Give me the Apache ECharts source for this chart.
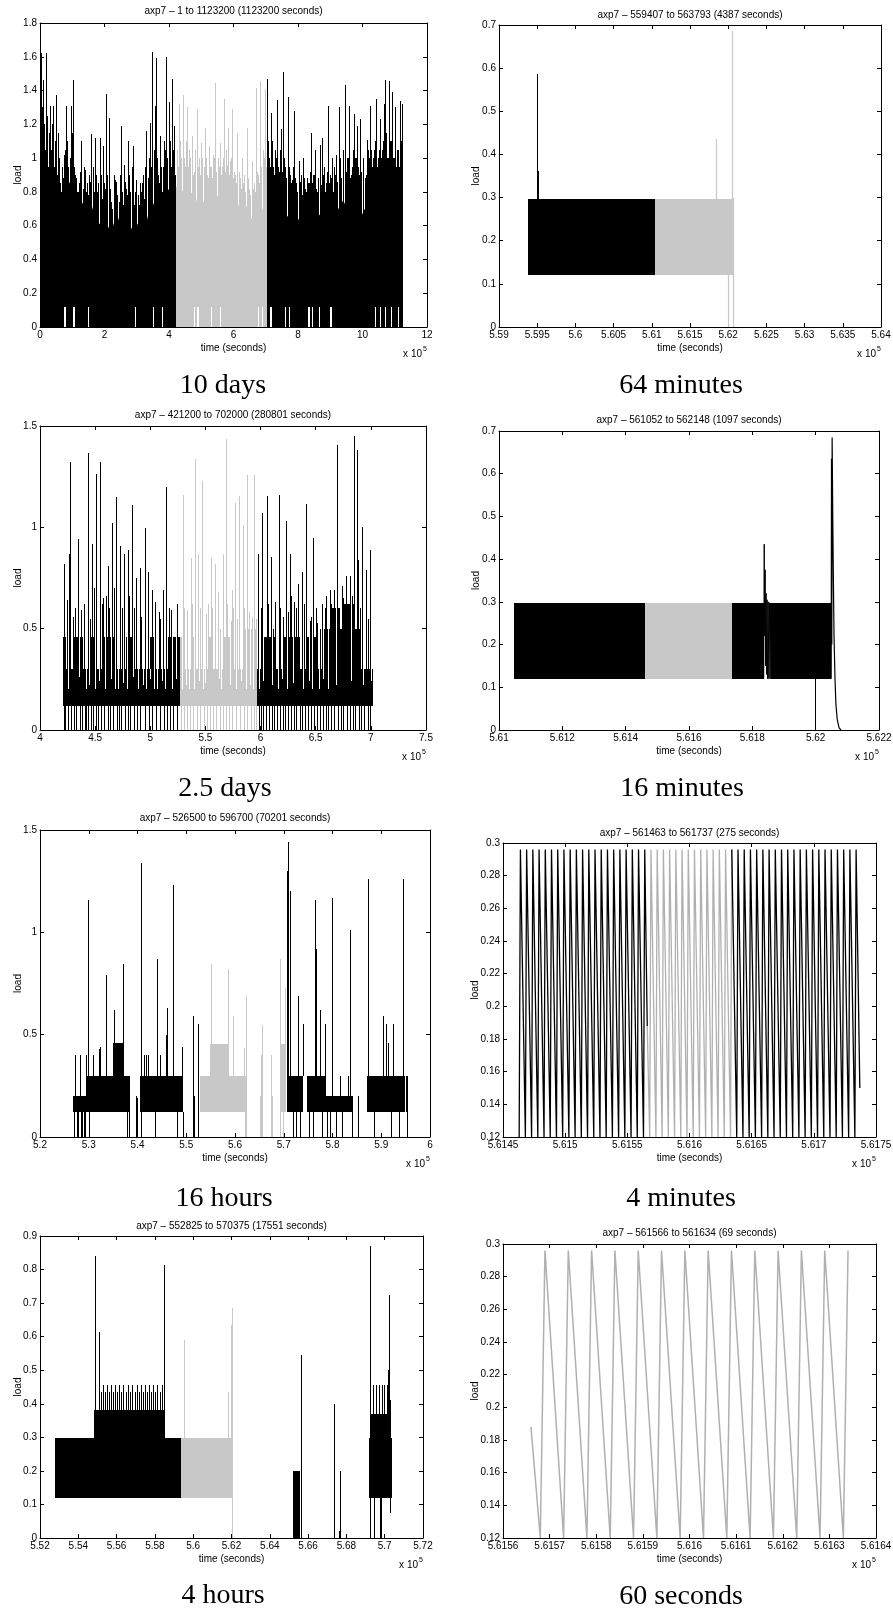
<!DOCTYPE html>
<html><head><meta charset="utf-8">
<script src="https://cdn.jsdelivr.net/npm/echarts@6/dist/echarts.min.js"></script>
<style>html,body{margin:0;padding:0;background:#fff}#c{width:893px;height:1612px}</style>
</head><body><div id="c"></div><script>
// ---------------- axis ranges [min, max, interval] ----------------
const xRanges = [[0,1200000,200000],[559000,564000,500],[400000,750000,50000],[561000,562200,200],
                 [520000,600000,10000],[561450,561750,50],[552000,572000,2000],[561560,561640,10]];
const yRanges = [[0,1.8,0.2],[0,0.7,0.1],[0,1.5,0.5],[0,0.7,0.1],[0,1.5,0.5],[0.12,0.3,0.02],[0,0.9,0.1],[0.12,0.3,0.02]];
const titles = ['axp7 \u2013 1 to 1123200 (1123200 seconds)','axp7 \u2013 559407 to 563793 (4387 seconds)',
  'axp7 \u2013 421200 to 702000 (280801 seconds)','axp7 \u2013 561052 to 562148 (1097 seconds)',
  'axp7 \u2013 526500 to 596700 (70201 seconds)','axp7 \u2013 561463 to 561737 (275 seconds)',
  'axp7 \u2013 552825 to 570375 (17551 seconds)','axp7 \u2013 561566 to 561634 (69 seconds)'];
const captions = ['10 days','64 minutes','2.5 days','16 minutes','16 hours','4 minutes','4 hours','60 seconds'];

// ---------------- Panel 1 (10 days) ----------------
const p1BaseBlackA = [[0,0.9],[10000,0.95],[20000,0.86],[30000,0.8],[40000,0.72],[50000,0.76],[60000,0.6],[70000,0.82],[80000,0.9],[90000,0.85],[100000,0.88],[110000,0.78],[120000,0.72],[130000,0.74],[140000,0.7],[150000,0.68],[160000,0.72],[170000,0.66],[180000,0.62],[190000,0.6],[200000,0.68],[210000,0.6],[220000,0.56],[230000,0.62],[240000,0.66],[250000,0.6],[260000,0.58],[270000,0.62],[280000,0.6],[290000,0.56],[300000,0.6],[310000,0.64],[320000,0.66],[330000,0.62],[340000,0.7],[350000,0.74],[360000,0.68],[370000,0.7],[380000,0.74],[390000,0.78],[400000,0.82],[410000,0.8],[421200,0.78]];
const p1BaseGrey = [[421200,0.82],[430000,0.86],[440000,0.8],[450000,0.84],[460000,0.75],[470000,0.8],[480000,0.72],[490000,0.78],[500000,0.7],[510000,0.76],[520000,0.74],[530000,0.8],[540000,0.72],[550000,0.78],[560000,0.7],[570000,0.76],[580000,0.72],[590000,0.8],[600000,0.76],[610000,0.7],[620000,0.74],[630000,0.66],[640000,0.72],[650000,0.62],[660000,0.66],[670000,0.58],[680000,0.62],[690000,0.7],[702000,0.78]];
const p1BaseBlackB = [[702000,0.8],[710000,0.77],[720000,0.75],[730000,0.73],[740000,0.75],[750000,0.71],[760000,0.67],[770000,0.65],[780000,0.69],[790000,0.65],[800000,0.63],[810000,0.67],[820000,0.65],[830000,0.61],[840000,0.65],[850000,0.69],[860000,0.65],[870000,0.67],[880000,0.71],[890000,0.65],[900000,0.63],[910000,0.67],[920000,0.69],[930000,0.71],[940000,0.75],[950000,0.71],[960000,0.67],[970000,0.65],[980000,0.69],[990000,0.65],[1000000,0.67],[1010000,0.71],[1020000,0.75],[1030000,0.73],[1040000,0.71],[1050000,0.75],[1060000,0.77],[1070000,0.75],[1080000,0.73],[1090000,0.77],[1100000,0.75],[1110000,0.73],[1120000,0.75],[1123200,0.75]];
const p1SpikesBlack = [[4100,1.62],[9300,1.46],[12000,1.2],[19600,1.62],[25000,0.95],[30000,1.31],[35000,1.05],[40300,1.31],[45000,1.0],[50700,1.375],[58000,1.0],[64100,0.8],[74500,1.02],[81700,1.31],[88000,0.95],[95100,1.31],[102400,1.46],[110000,0.9],[115900,0.8],[122000,0.85],[128300,1.1],[138600,0.93],[145000,0.85],[152000,0.9],[159300,1.14],[169600,1.12],[178000,0.8],[185100,1.12],[195500,1.07],[200000,0.82],[205800,1.38],[213100,1.24],[221400,0.74],[228000,0.9],[233800,0.87],[240000,0.78],[250400,1.19],[260700,0.96],[266000,0.82],[273100,1.1],[280000,0.8],[288600,1.07],[292000,0.72],[299000,0.87],[309300,0.85],[315000,0.85],[320000,0.8],[330000,1.16],[340400,1.21],[345000,0.9],[348700,1.63],[355900,1.31],[361100,1.59],[366000,0.9],[371400,1.13],[380000,0.95],[388000,1.05],[392100,1.6],[399300,1.33],[405000,0.9],[409700,1.47],[415900,1.19],
  [703500,1.468],[709000,1.0],[716000,1.27],[722000,0.95],[728000,1.05],[735000,1.345],[741000,0.92],[747000,1.17],[753000,1.51],[760000,0.95],[768000,1.36],[775000,0.9],[781000,0.87],[789000,1.28],[795000,0.85],[802000,0.98],[808000,0.9],[815000,1.0],[821000,0.82],[828000,0.88],[834000,0.85],[840000,1.15],[846000,0.9],[853000,1.05],[860000,0.8],[867000,1.08],[874000,1.12],[880000,0.95],[886000,0.85],[893000,1.31],[899000,0.9],[905000,1.0],[912000,0.95],[918000,1.02],[926000,1.3],[931000,0.92],[938000,0.95],[945000,1.43],[951000,1.0],[957000,1.31],[964000,0.9],[973000,1.26],[978000,1.0],[983000,1.19],[988000,0.9],[993000,1.23],[1000000,0.95],[1008000,0.88],[1014000,1.11],[1019000,1.0],[1024000,1.31],[1030000,0.95],[1036000,1.05],[1042000,1.35],[1048000,1.0],[1055000,1.23],[1061000,1.05],[1066000,1.32],[1071000,1.46],[1076000,1.0],[1081000,1.455],[1086000,1.1],[1092000,1.39],[1097000,1.0],[1102000,1.3],[1108000,1.05],[1112000,0.95],[1117000,1.34],[1122000,1.32]];
const p1MidBlack = [[2000,1.1],[7000,1.3],[15000,1.05],[22000,1.25],[27500,1.15],[32500,0.98],[38000,1.2],[42500,0.95],[48000,1.1],[53000,0.9],[56000,1.15],[61500,0.85],[67000,0.95],[70000,0.88],[77500,1.05],[84500,1.1],[91500,1.0],[98000,1.15],[106000,0.95],[113000,0.88],[119000,0.8],[125000,0.92],[132000,0.82],[135000,0.95],[142000,0.8],[148000,0.78],[156000,0.86],[163000,0.95],[166000,0.8],[173000,0.9],[181000,0.85],[189000,0.9],[192000,0.76],[198000,0.85],[203000,0.75],[209000,0.9],[217000,0.82],[224000,0.7],[231000,0.78],[237000,0.86],[244000,0.74],[247000,0.9],[254000,0.8],[257000,0.72],[263000,0.86],[269000,0.78],[276000,0.9],[284000,0.76],[286000,0.95],[296000,0.8],[303000,0.78],[306000,0.72],[312000,0.8],[318000,0.9],[324000,0.76],[327000,0.95],[334000,0.88],[337000,1.0],[343000,0.95],[352000,1.05],[358000,0.9],[363000,1.0],[369000,0.85],[374000,0.95],[377000,0.8],[383000,1.1],[385000,0.9],[395000,1.0],[402000,1.1],[407000,0.95],[412000,1.05],[418000,0.9],
  [706000,1.1],[712000,0.95],[719000,1.1],[725000,0.9],[731000,1.0],[738000,0.95],[744000,1.05],[750000,0.92],[756000,1.0],[763000,0.88],[771000,0.95],[778000,0.85],[785000,0.95],[792000,0.88],[798000,0.8],[805000,0.86],[811000,0.78],[818000,0.88],[825000,0.8],[831000,0.85],[837000,0.92],[843000,0.85],[850000,0.9],[856000,0.82],[863000,0.88],[871000,0.84],[877000,0.9],[883000,0.8],[890000,0.92],[896000,0.85],[902000,0.88],[908000,0.8],[915000,0.9],[921000,0.86],[929000,1.0],[934000,0.88],[941000,1.05],[948000,0.92],[954000,1.0],[961000,0.88],[967000,0.95],[970000,1.05],[976000,0.9],[981000,1.0],[986000,0.95],[991000,1.05],[996000,0.92],[1003000,1.0],[1011000,0.9],[1016000,1.05],[1022000,0.95],[1027000,1.05],[1033000,1.0],[1039000,1.1],[1045000,0.95],[1051000,1.05],[1058000,1.0],[1064000,1.1],[1068000,1.0],[1074000,1.15],[1079000,1.0],[1084000,1.05],[1089000,1.1],[1095000,1.0],[1100000,1.1],[1105000,0.95],[1110000,1.05],[1115000,1.0],[1120000,1.1]];
const p1SpikesGrey = [[432000,1.32],[438000,1.0],[443000,1.375],[449000,0.95],[455000,1.3],[462000,1.05],[471000,1.13],[478000,0.92],[486000,1.29],[492000,1.0],[500000,1.09],[507000,0.95],[512000,1.18],[518000,0.9],[525000,1.07],[531000,0.95],[537000,1.02],[543000,1.445],[551000,1.0],[559000,1.09],[565000,0.95],[571000,1.35],[578000,1.05],[584000,1.18],[590000,0.98],[595000,1.29],[603000,0.92],[612000,1.15],[619000,0.88],[626000,1.0],[633000,0.9],[641000,1.18],[648000,0.82],[657000,0.98],[663000,0.85],[670000,1.415],[676000,0.9],[683000,1.455],[690000,1.05],[698000,1.41],
  [424000,1.05],[427000,0.95],[435000,1.1],[446000,1.0],[452000,1.1],[458000,0.95],[466000,1.0],[474000,0.9],[482000,1.05],[489000,0.95],[496000,0.9],[503000,1.0],[510000,0.92],[515000,1.0],[521000,0.88],[528000,0.95],[534000,0.88],[540000,1.0],[546000,0.92],[554000,0.95],[562000,0.9],[568000,1.0],[574000,0.92],[581000,0.96],[587000,0.9],[593000,1.0],[599000,0.88],[606000,0.9],[609000,0.85],[616000,0.92],[622000,0.82],[629000,0.85],[637000,0.8],[644000,0.88],[652000,0.78],[660000,0.82],[667000,0.8],[673000,0.92],[680000,0.85],[686000,0.95],[694000,1.0],[700000,0.95]];
const p1Gaps = [[73000,80000],[102000,107000],[150000,152500],[294000,297000],[351000,354500],[379000,382000],
  [477000,479500],[488000,492000],[531000,533000],[558000,562000],[675000,678000],[687000,691000],
  [714000,718000],[759000,763000],[772000,775000],[831000,836000],[844000,846500],[866000,868500],[900000,904000],
  [1040000,1043000],[1055000,1058000],[1071000,1074000],[1089000,1092000],[1110000,1113000]];

// ---------------- Panel 2 (64 minutes) ----------------
const p2RectsBlack = [[559384,561039,0.12,0.297]];
const p2RectsGrey = [[561039,562057,0.12,0.297]];
const p2SegsBlack = [[559498,0.12,0.587],[559505,0.12,0.362]];
const p2SegsGrey = [[561838,0.12,0.435],[562044,0.12,0.685],[561991,0,0.12],[562066,0,0.3]];

// ---------------- Panel 3 (2.5 days) ----------------
const p3RectsBlack = [[421200,526500,0.12,0.2],[596700,702000,0.12,0.2],
  [421200,424000,0.2,0.46],[424000,430000,0.2,0.3],[430000,439000,0.2,0.46],[439000,445000,0.2,0.3],[445000,452000,0.2,0.46],[452000,457000,0.2,0.3],[457000,470000,0.2,0.46],[470000,478000,0.2,0.3],[478000,486000,0.2,0.46],[486000,500000,0.2,0.3],[500000,504000,0.2,0.46],[504000,516000,0.2,0.3],[516000,526500,0.2,0.46],
  [596700,603000,0.2,0.3],[603000,614000,0.2,0.46],[614000,620000,0.2,0.3],[620000,636000,0.2,0.46],[636000,642000,0.2,0.3],[642000,652000,0.2,0.46],[652000,656000,0.2,0.3],[656000,690000,0.2,0.5],[664000,672000,0.5,0.6],[676000,686000,0.5,0.62],[690000,702000,0.2,0.3]];
const p3RectsGrey = [[526500,596700,0.12,0.2],[526500,530000,0.2,0.46],[530000,537000,0.2,0.3],[537000,541000,0.2,0.46],[541000,552000,0.2,0.3],[552000,557000,0.2,0.46],[557000,566000,0.2,0.3],[566000,573000,0.2,0.46],[573000,586000,0.2,0.3],[586000,596700,0.2,0.5]];
const p3Cuts = [[425000,0.2,0.46],[426800,0.24,0.46],[431500,0.2,0.46],[435500,0.26,0.46],[441800,0.2,0.3],[444000,0.22,0.3],[449500,0.2,0.46],[453500,0.24,0.3],[459000,0.2,0.46],[464500,0.25,0.46],[468000,0.2,0.46],[471000,0.2,0.3],[475000,0.23,0.3],[479000,0.2,0.46],[484000,0.26,0.46],[489000,0.2,0.3],[493000,0.22,0.3],[496500,0.2,0.3],[499500,0.25,0.3],[503000,0.2,0.46],[506500,0.2,0.3],[510500,0.24,0.3],[513500,0.2,0.3],[520000,0.2,0.46],[523000,0.25,0.46],
  [528500,0.2,0.46],[532000,0.22,0.3],[535000,0.2,0.3],[539500,0.2,0.46],[544000,0.24,0.3],[548000,0.2,0.3],[550000,0.23,0.3],[555000,0.2,0.46],[559000,0.2,0.3],[562000,0.25,0.3],[564500,0.2,0.3],[569500,0.2,0.46],[572000,0.22,0.46],[577500,0.2,0.3],[582000,0.24,0.3],[586500,0.2,0.5],[590000,0.22,0.5],[593000,0.2,0.5],
  [599000,0.2,0.3],[602000,0.24,0.3],[606000,0.2,0.46],[610500,0.22,0.46],[615500,0.2,0.3],[619000,0.25,0.3],[624000,0.2,0.46],[629000,0.23,0.46],[633500,0.2,0.46],[638500,0.2,0.3],[643500,0.24,0.46],[647000,0.2,0.46],[653000,0.2,0.3],[657000,0.25,0.5],[661000,0.2,0.5],[668000,0.22,0.6],[674000,0.2,0.5],[681800,0.24,0.62],[688000,0.2,0.5],[693000,0.22,0.3],[696000,0.2,0.3],[700000,0.24,0.3]];
const p3SpikesBlack = [[421800,0.82],[424500,0.64],[426000,0.87],[427500,1.32],[429600,0.56],[432000,0.6],[434200,0.94],[437200,0.59],[440000,0.62],[443500,1.365],[445500,0.55],[447100,0.92],[449000,0.7],[451100,1.263],[454100,1.324],[456000,0.62],[457100,0.65],[460000,0.66],[461700,0.81],[463000,0.6],[465300,1.02],[467000,0.7],[469200,1.15],[472200,0.91],[474000,0.6],[476200,0.87],[479800,0.89],[481000,0.66],[483400,1.11],[485000,0.6],[487300,0.75],[490400,0.8],[492000,0.56],[494900,0.995],[497900,0.78],[498000,0.6],[501500,0.69],[504500,0.63],[507600,0.58],[509000,0.55],[511500,0.69],[514500,1.2],[517000,0.6],[519000,0.59],[522100,0.46],[524000,0.62],
  [598000,0.87],[600000,0.6],[601600,1.069],[605500,1.155],[607000,0.62],[609100,0.855],[611000,0.5],[613000,0.63],[616700,1.16],[618000,0.6],[620000,0.56],[623000,1.033],[625000,0.58],[626600,0.87],[628000,0.66],[630600,0.63],[632000,0.6],[634200,0.72],[637200,0.78],[639000,0.62],[641200,1.114],[644700,0.54],[646000,0.56],[647800,0.946],[650000,0.6],[651400,0.53],[654000,0.5],[655300,0.62],[658000,0.6],[659200,0.66],[662800,0.69],[664000,0.62],[666500,0.69],[669500,1.406],[671000,0.6],[673400,0.71],[675000,0.65],[677300,0.76],[679000,0.6],[680900,0.76],[683000,0.66],[684500,1.45],[687000,1.38],[688600,0.84],[690000,0.6],[692200,1.003],[695200,0.79],[697000,0.55],[699100,0.89],[701000,0.3]];
const p3SpikesGrey = [[529600,1.16],[531000,0.6],[533600,0.59],[536600,0.85],[538000,0.62],[540200,1.335],[543200,0.87],[545000,0.6],[547200,1.23],[550800,0.57],[552000,0.62],[554700,0.85],[556000,0.6],[558400,0.82],[561400,0.68],[563000,0.5],[565900,0.87],[568900,1.434],[570000,0.62],[572900,0.54],[573800,0.69],[575000,0.6],[576800,1.118],[578500,0.55],[580700,1.155],[583800,1.01],[585000,0.6],[587300,1.258],[589700,0.58],[591800,0.56],[592500,0.5],[594300,1.258],[595500,0.55]];
const p3DropsBlack = [421500,423000,425500,427800,428500,430500,433000,436000,438000,440500,441500,443800,446500,448000,451000,452500,455000,457800,462000,463500,466000,470000,472000,473500,477500,480000,481500,485000,488000,491000,495000,498500,502000,505500,509000,512500,515000,518000,521000,524500,
  598500,600500,602500,604500,607500,610000,612500,615000,618000,620500,622000,625000,627500,630000,632500,635500,638000,640500,643000,645500,648500,651000,653500,656500,659000,661500,664000,667000,670000,672500,675000,678000,681000,683500,686000,689000,691500,694000,697000,699500];
const p3DropsGrey = [527500,530500,533000,536000,539000,542000,545500,548500,551000,554000,557000,560000,563500,566000,568500,571000,574500,578000,581500,585000,588000,591000,594000,596000];

// ---------------- Panel 4 (16 minutes) ----------------
const p4RectsBlack = [[561047,561461,0.12,0.297],[561735,561836,0.12,0.297],[561859,562049,0.12,0.297]];
const p4RectsGrey = [[561461,561735,0.12,0.297]];
const p4SpikeA = [[561836,0.12],[561837.5,0.435],[561839,0.22],[561840.5,0.375],[561842,0.15],[561843.5,0.32],[561845,0.13],[561846.5,0.305],[561848,0.12],[561850,0.3],[561852,0.12],[561854,0.298],[561856,0.12],[561858,0.297],[561859,0.12]];
const p4SpikeB = [[562049,0.12],[562050,0.635],[562051,0.2],[562052,0.685],[562054,0.5],[562056,0.35],[562058,0.22],[562061,0.12],[562064,0.06],[562068,0.025],[562074,0.005],[562080,0]];
const p4SegsBlack = [[561999,0,0.15]];

// ---------------- Panel 5 (16 hours) ----------------
const p5RectsBlack = [[526838,529710,0.12,0.2],[529710,538463,0.12,0.3],[535044,537232,0.3,0.46],[540514,549403,0.12,0.3],[570601,574020,0.12,0.3],[574704,578465,0.12,0.3],[578465,584277,0.12,0.2],[587012,594876,0.12,0.3],[595081,595560,0.12,0.3]];
const p5RectsGrey = [[552825,562396,0.12,0.3],[554874,558840,0.3,0.455],[565204,565588,0,0.2],[569159,570375,0.12,0.3],[569300,570300,0.3,0.455]];
const p5SegsBlack = [[527180,0.2,0.4],[528205,0.2,0.4],[529436,0.2,0.4],[529778,0.3,1.16],[530941,0.3,0.4],[532103,0.3,0.43],[532308,0.3,0.44],[533471,0.3,0.79],[535249,0.3,0.62],[536958,0.3,0.845],[539694,0,0.2],[539967,0,0.19],[540651,0.3,1.34],[541335,0.3,0.4],[541677,0.3,0.4],[542224,0.3,0.4],[544070,0.3,0.87],[544617,0.3,0.4],[545780,0.3,0.5],[545984,0.3,0.63],[547352,0.3,1.23],[549062,0.3,0.44],[551318,0,0.59],[551660,0,0.2],[552481,0,0.55],
  [570738,0.3,1.3],[570943,0.3,1.44],[571285,0.3,1.2],[572858,0.3,0.69],[573883,0.3,0.55],[574020,0.3,0.46],[576414,0.3,1.16],[576619,0.3,0.92],[577439,0.3,0.62],[578465,0.2,0.55],[579969,0.2,1.17],[581542,0.2,0.3],[583252,0.2,0.3],[583593,0.2,1.01],[585303,0,0.2],[587217,0.3,1.26],[590294,0.3,0.59],[590978,0.3,0.55],[591320,0.3,0.46],[592483,0.3,0.55],[594397,0.3,1.26],[594534,0.3,0.8]];
const p5DropsBlack = [527000,527500,527800,528400,528700,529000,529300,530120,537779,538257,540800,543500,548000,549300,571800,572500,573300,575200,576000,577900,578800,579500,580800,582000,583900,588500,592000,593600,595300];
const p5SegsGrey = [[555011,0.455,0.845],[558566,0.455,0.82],[562259,0,0.69],[565640,0,0.545],[565300,0,0.4],[567330,0,0.4],[567678,0,0.2],[569246,0.3,0.87],[570239,0.3,0.73],[570169,0.3,0.5],[559525,0.3,0.59],[561842,0.3,0.435],[562051,0,0.12],[569211,0,0.12],[569768,0,0.12]];

// ---------------- Panels 6 & 8 (4 minutes / 60 seconds) ----------------
const sawBlackA = [[561463,0.12],[561464,0.296],[561468,0.12],[561469,0.296],[561473,0.12],[561474,0.296],[561478,0.12],[561479,0.296],[561483,0.12],[561484,0.296],[561488,0.12],[561489,0.296],[561493,0.12],[561494,0.296],[561498,0.12],[561499,0.296],[561503,0.12],[561504,0.296],[561508,0.12],[561509,0.296],[561513,0.12],[561514,0.296],[561518,0.12],[561519,0.296],[561523,0.12],[561524,0.296],[561528,0.12],[561529,0.296],[561533,0.12],[561534,0.296],[561538,0.12],[561539,0.296],[561543,0.12],[561544,0.296],[561548,0.12],[561549,0.296],[561553,0.12],[561554,0.296],[561558,0.12],[561559,0.296],[561563,0.12],[561564,0.296],[561566,0.188]];
const sawGrey = [[561566,0.188],[561568,0.12],[561569,0.296],[561573,0.12],[561574,0.296],[561578,0.12],[561579,0.296],[561583,0.12],[561584,0.296],[561588,0.12],[561589,0.296],[561593,0.12],[561594,0.296],[561598,0.12],[561599,0.296],[561603,0.12],[561604,0.296],[561608,0.12],[561609,0.296],[561613,0.12],[561614,0.296],[561618,0.12],[561619,0.296],[561623,0.12],[561624,0.296],[561628,0.12],[561629,0.296],[561633,0.12],[561634,0.296]];
const sawBlackB = [[561634,0.296],[561638,0.12],[561639,0.296],[561643,0.12],[561644,0.296],[561648,0.12],[561649,0.296],[561653,0.12],[561654,0.296],[561658,0.12],[561659,0.296],[561663,0.12],[561664,0.296],[561668,0.12],[561669,0.296],[561673,0.12],[561674,0.296],[561678,0.12],[561679,0.296],[561683,0.12],[561684,0.296],[561688,0.12],[561689,0.296],[561693,0.12],[561694,0.296],[561698,0.12],[561699,0.296],[561703,0.12],[561704,0.296],[561708,0.12],[561709,0.296],[561713,0.12],[561714,0.296],[561718,0.12],[561719,0.296],[561723,0.12],[561724,0.296],[561728,0.12],[561729,0.296],[561733,0.12],[561734,0.296],[561737,0.15]];

// ---------------- Panel 7 (4 hours) ----------------
const p7RectsBlack = [[552780,559370,0.12,0.297],[554840,558500,0.297,0.38],[565204,565588,0,0.2],[569159,570379,0.12,0.297],[569300,570300,0.297,0.37]];
const p7RectsGrey = [[559370,562100,0.12,0.297]];
const p7SegsBlack = [[554857,0.297,0.84],[555101,0.297,0.615],[558463,0.297,0.815],
  [555101,0.297,0.455],[555205,0.297,0.435],[555310,0.297,0.455],[555415,0.297,0.435],[555519,0.297,0.455],[555623,0.297,0.435],[555728,0.297,0.455],[555832,0.297,0.435],[555937,0.297,0.455],[556041,0.297,0.435],[556146,0.297,0.455],[556250,0.297,0.435],[556355,0.297,0.455],[556485,0.297,0.435],[556616,0.297,0.455],[556720,0.297,0.435],[556825,0.297,0.455],[556938,0.297,0.435],[557052,0.297,0.455],[557156,0.297,0.435],[557261,0.297,0.455],[557374,0.297,0.435],[557487,0.297,0.455],[557591,0.297,0.435],[557696,0.297,0.455],[557810,0.297,0.435],[557923,0.297,0.455],[558027,0.297,0.435],[558132,0.297,0.455],[558245,0.297,0.435],[558358,0.297,0.455],
  [565604,0,0.36],[565640,0,0.545],[567330,0,0.4],[567591,0,0.02],[567678,0,0.2],
  [569246,0.12,0.87],[570239,0.12,0.725],[570169,0.12,0.5],[570291,0.12,0.41],[569385,0.297,0.455],[569559,0.297,0.455],[569681,0.297,0.455],[569855,0.297,0.455],[569977,0.297,0.455],[570117,0.297,0.455],
  [569211,0,0.12],[569420,0,0.12],[569768,0,0.12],[569821,0,0.12],[570291,0.075,0.12]];
const p7SegsGrey = [[559525,0.297,0.59],[561842,0.297,0.435],[561999,0.297,0.635],[562051,0.297,0.685],[562051,0,0.12]];

// ============================================================
const FONT = 'Liberation Sans';
const K = '#000000', G = '#c8c8c8', GL = '#b0b0b0';
const panels = [
  {grid:[40,23,387,304], ty:11, cap:[223,386], ng:17},
  {grid:[499,25,382,302], ty:15, cap:[681,386], ng:18},
  {grid:[40,426,386,304], ty:415, cap:[225,789], ng:17},
  {grid:[499,431,380,299], ty:420, cap:[682,789], ng:18},
  {grid:[40,830,390,307], ty:818, cap:[224,1199], ng:17},
  {grid:[503,843,373,294], ty:833, cap:[681,1199], ng:23},
  {grid:[40,1236,383,302], ty:1226, cap:[223,1596], ng:17},
  {grid:[503,1244,373,294], ty:1233, cap:[681,1597], ng:23}
];
function fmt(v){ return String(+(+v).toFixed(6)); }
const grids=[], xAxes=[], yAxes=[], series=[], graphics=[];
const tickStyle = {show:true, inside:true, length:4, lineStyle:{color:'#000', width:1}};
const lineSt = {show:true, onZero:false, lineStyle:{color:'#000', width:1}};
const lblSt = {color:'#000', fontSize:10, fontFamily:FONT};
panels.forEach((p,i)=>{
  const [l,t,w,h] = p.grid;
  grids.push({left:l, top:t, width:w, height:h, containLabel:false, outerBoundsMode:'none', show:false});
  const [x0,x1,xi] = xRanges[i], [y0,y1,yi] = yRanges[i];
  xAxes.push({type:'value', gridIndex:i, position:'bottom', min:x0, max:x1, interval:xi,
    axisLine:lineSt, axisTick:tickStyle, splitLine:{show:false},
    axisLabel:Object.assign({margin:3, showMinLabel:true, showMaxLabel:true, formatter:v=>fmt(v/1e5)}, lblSt),
    name:'time (seconds)', nameLocation:'middle', nameGap:16, nameMoveOverlap:false, nameTextStyle:lblSt});
  xAxes.push({type:'value', gridIndex:i, position:'top', min:x0, max:x1, interval:xi,
    axisLine:lineSt, axisTick:tickStyle, splitLine:{show:false}, axisLabel:{show:false}});
  yAxes.push({type:'value', gridIndex:i, position:'left', min:y0, max:y1, interval:yi,
    axisLine:lineSt, axisTick:tickStyle, splitLine:{show:false},
    axisLabel:Object.assign({margin:3, showMinLabel:true, showMaxLabel:true, formatter:v=>fmt(v)}, lblSt),
    name:'load', nameLocation:'middle', nameGap:p.ng, nameMoveOverlap:false, nameTextStyle:lblSt});
  yAxes.push({type:'value', gridIndex:i, position:'right', min:y0, max:y1, interval:yi,
    axisLine:lineSt, axisTick:tickStyle, splitLine:{show:false}, axisLabel:{show:false}});
  graphics.push({type:'text', x:l+w/2, y:p.ty, silent:true, style:{text:titles[i], font:'10px "'+FONT+'"', fill:'#000', align:'center', verticalAlign:'middle', textAlign:'center', textVerticalAlign:'middle'}});
  graphics.push({type:'text', x:l+w-5, y:t+h+27, silent:true, style:{text:'x 10', font:'10px "'+FONT+'"', fill:'#000', align:'right', verticalAlign:'middle', textAlign:'right', textVerticalAlign:'middle'}});
  graphics.push({type:'text', x:l+w-4, y:t+h+22, silent:true, style:{text:'5', font:'7px "'+FONT+'"', fill:'#000', align:'left', verticalAlign:'middle', textAlign:'left', textVerticalAlign:'middle'}});
  graphics.push({type:'text', x:p.cap[0], y:p.cap[1], silent:true, style:{text:captions[i], font:'28px "Liberation Serif"', fill:'#000', align:'center', verticalAlign:'middle', textAlign:'center', textVerticalAlign:'middle'}});
});
function rects(pi, data, color, z){
  series.push({type:'custom', xAxisIndex:2*pi, yAxisIndex:2*pi, z:z||2, silent:true, clip:true,
    encode:{x:[0,1], y:[2,3]}, data:data,
    renderItem:(params, api)=>{
      const a = api.coord([api.value(0), api.value(3)]);
      const b = api.coord([api.value(1), api.value(2)]);
      const x0 = Math.round(a[0]), y0 = Math.round(a[1]), x1 = Math.round(b[0]), y1 = Math.round(b[1]);
      return {type:'rect', shape:{x:x0, y:y0, width:Math.max(x1-x0,1), height:y1-y0}, style:{fill:color}};
    }});
}
function segs(pi, data, color, lw, z){
  series.push({type:'custom', xAxisIndex:2*pi, yAxisIndex:2*pi, z:z||3, silent:true, clip:true,
    encode:{x:[0], y:[1,2]}, data:data,
    renderItem:(params, api)=>{
      const a = api.coord([api.value(0), api.value(1)]);
      const b = api.coord([api.value(0), api.value(2)]);
      const x = Math.round(a[0]) + 0.5;
      return {type:'line', shape:{x1:x, y1:Math.round(a[1]), x2:x, y2:Math.round(b[1])}, style:{stroke:color, lineWidth:lw}};
    }});
}
function line(pi, data, color, lw, z){
  series.push({type:'line', xAxisIndex:2*pi, yAxisIndex:2*pi, z:z||3, silent:true, clip:true, symbol:'none',
    data:data, lineStyle:{color:color, width:lw}});
}
function area(pi, data, color){
  series.push({type:'line', xAxisIndex:2*pi, yAxisIndex:2*pi, z:2, silent:true, clip:true, symbol:'none',
    data:data, lineStyle:{color:color, width:0}, areaStyle:{color:color, opacity:1, origin:'start'}});
}
// Panel 1
area(0, p1BaseBlackA, K); area(0, p1BaseGrey, G); area(0, p1BaseBlackB, K);
segs(0, p1MidBlack.map(d=>[d[0],0,d[1]]), K, 1);
segs(0, p1SpikesBlack.map(d=>[d[0],0,d[1]]), K, 1);
segs(0, p1SpikesGrey.map(d=>[d[0],0,d[1]]), G, 1);
rects(0, p1Gaps.map(d=>[d[0],d[1],0,0.12]), '#ffffff', 4);
// Panel 2
rects(1, p2RectsBlack, K); rects(1, p2RectsGrey, G);
segs(1, p2SegsBlack, K, 1); segs(1, p2SegsGrey, G, 1.2);
// Panel 3
rects(2, p3RectsBlack, K); rects(2, p3RectsGrey, G);
segs(2, p3Cuts, '#ffffff', 1, 2);
segs(2, p3SpikesBlack.map(d=>[d[0],0.2,d[1]]), K, 1);
segs(2, p3SpikesGrey.map(d=>[d[0],0.2,d[1]]), G, 1);
segs(2, p3DropsBlack.map(t=>[t,0,0.12]), K, 1);
segs(2, p3DropsGrey.map(t=>[t,0,0.12]), G, 1);
// Panel 4
rects(3, p4RectsBlack, K); rects(3, p4RectsGrey, G);
line(3, p4SpikeA, K, 1); line(3, p4SpikeB, K, 1.2);
segs(3, p4SegsBlack, K, 1);
// Panel 5
rects(4, p5RectsBlack, K); rects(4, p5RectsGrey, G);
segs(4, p5SegsBlack, K, 1);
segs(4, p5DropsBlack.map(t=>[t,0,0.12]), K, 1);
segs(4, p5SegsGrey, G, 1);
// Panel 6
line(5, sawBlackA, K, 1.3); line(5, sawGrey, GL, 1.3); line(5, sawBlackB, K, 1.3);
// Panel 7
rects(6, p7RectsBlack, K); rects(6, p7RectsGrey, G);
segs(6, p7SegsBlack, K, 1); segs(6, p7SegsGrey, G, 1);
// Panel 8
line(7, sawGrey, GL, 1.5);

const chart = echarts.init(document.getElementById('c'), null, {renderer:'canvas'});
chart.setOption({animation:false, backgroundColor:'#fff', grid:grids, xAxis:xAxes, yAxis:yAxes, series:series, graphic:graphics});
</script></body></html>
